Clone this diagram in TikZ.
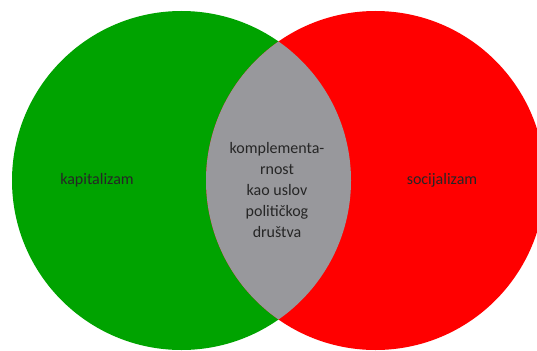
\documentclass[tikz,border=0pt]{standalone}
\usepackage{fontspec}
\setmainfont{Carlito}
\definecolor{capgreen}{RGB}{0,163,0}
\definecolor{socred}{RGB}{255,0,0}
\definecolor{lensgray}{RGB}{152,152,156}
\begin{document}
\begin{tikzpicture}[x=1pt,y=-1pt,
  label/.style={font=\fontsize{16}{21}\selectfont, text=black!85, align=center, inner sep=0pt}]
\useasboundingbox (0,0) rectangle (537,350);
\fill[white] (0,0) rectangle (537,350);
% the two sets
\coordinate (cl) at (181.5,180.5);
\coordinate (cr) at (375.5,180.5);
\fill[capgreen] (cl) circle[radius=169.5];
\fill[socred] (cr) circle[radius=169.5];
% their intersection
\begin{scope}
  \clip (cl) circle[radius=169.5];
  \fill[lensgray] (cr) circle[radius=169.5];
\end{scope}
% labels
\node[label] (kap) at (97,180) {kapitalizam};
\node[label] (soc) at (442,180) {socijalizam};
\node[label] (mid) at (277,190) {komplementa-\\rnost\\kao uslov\\političkog\\društva};
\end{tikzpicture}
\end{document}
